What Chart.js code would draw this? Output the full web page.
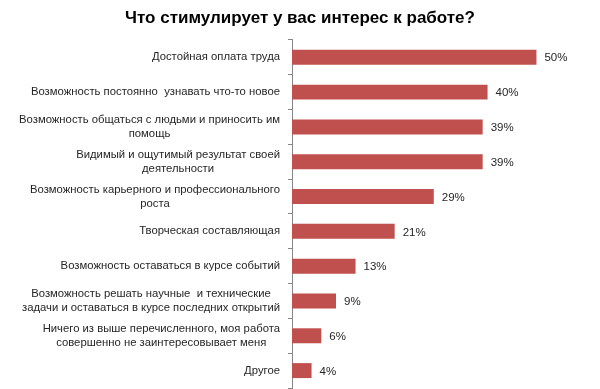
<!DOCTYPE html>
<html>
<head>
<meta charset="utf-8">
<script src="https://cdn.jsdelivr.net/npm/chart.js@4"></script>
<style>
    html, body { margin: 0; padding: 0; background: #fff; }
    #wrap { width: 600px; height: 389px; }
</style>
</head>
<body>
<div id="wrap"><canvas id="chart"></canvas></div>
<script>
/* ================= DATA ================= */
const categories = [
    ["Достойная оплата труда"],
    ["Возможность постоянно  узнавать что-то новое"],
    ["Возможность общаться с людьми и приносить им", "помощь"],
    ["Видимый и ощутимый результат своей", "деятельности"],
    ["Возможность карьерного и профессионального", "роста"],
    ["Творческая составляющая"],
    ["Возможность оставаться в курсе событий"],
    ["Возможность решать научные  и технические", "задачи и оставаться в курсе последних открытий"],
    ["Ничего из выше перечисленного, моя работа", "совершенно не заинтересовывает меня"],
    ["Другое"]
];
const values = [50, 40, 39, 39, 29, 21, 13, 9, 6, 4];
const valueLabels = ["50%", "40%", "39%", "39%", "29%", "21%", "13%", "9%", "6%", "4%"];

const FONT = "'Liberation Sans', Arial, sans-serif";

/* ================= LABEL PLUGIN ================= */
// category labels: block right-aligned to the axis, lines centered inside it
const labelsPlugin = {
    id: "labelsPlugin",
    afterDraw(chart) {
        const ctx = chart.ctx;
        const yScale = chart.scales.y;
        const meta = chart.getDatasetMeta(0);
        ctx.save();
        ctx.font = "11.3px " + FONT;
        ctx.fillStyle = "#262626";
        ctx.textBaseline = "middle";

        categories.forEach((lines, i) => {
            const yc = yScale.getPixelForValue(i);
            const maxW = Math.max(...lines.map(l => ctx.measureText(l).width));
            const right = chart.chartArea.left - 12;
            const cx = right - maxW / 2;
            const lh = 14;
            ctx.textAlign = "center";
            lines.forEach((l, k) => {
                ctx.fillText(l, cx, yc + (k - (lines.length - 1) / 2) * lh);
            });
        });

        // value labels
        ctx.font = "11.5px " + FONT;
        ctx.textAlign = "left";
        meta.data.forEach((bar, i) => {
            ctx.fillText(valueLabels[i], bar.x + 8, bar.y + 1);
        });
        ctx.restore();
    }
};

/* ================= CHART ================= */
new Chart(document.getElementById("chart"), {
    type: "bar",
    data: {
        labels: categories,
        datasets: [{
            data: values,
            backgroundColor: "#c0504d",
            borderWidth: 0,
            barPercentage: 0.43,
            categoryPercentage: 1
        }]
    },
    options: {
        indexAxis: "y",
        responsive: true,
        maintainAspectRatio: false,
        animation: false,
        layout: { padding: { left: 0, right: 0, top: 0, bottom: 1 } },
        plugins: {
            legend: { display: false },
            tooltip: { enabled: false },
            title: {
                display: true,
                text: "Что стимулирует у вас интерес к работе?",
                color: "#000",
                font: { family: FONT, size: 17, weight: "bold" },
                padding: { top: 8, bottom: 11.5 }
            }
        },
        scales: {
            x: {
                display: false,
                min: 0,
                max: 63
            },
            y: {
                afterFit: s => { s.width = 292; },
                ticks: { display: false },
                grid: {
                    offset: true,
                    drawOnChartArea: false,
                    tickLength: 4,
                    color: "#868686"
                },
                border: { color: "#868686", width: 1 }
            }
        }
    },
    plugins: [labelsPlugin]
});
</script>
</body>
</html>
